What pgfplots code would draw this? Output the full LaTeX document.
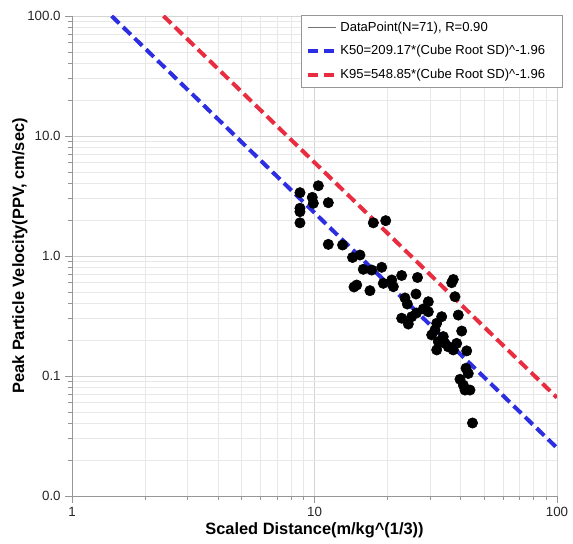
\documentclass[border=0pt]{standalone}
\usepackage{fontspec}
\setmainfont{Liberation Sans}
\usepackage{pgfplots}
\pgfplotsset{compat=1.18}
\definecolor{kblue}{RGB}{45,45,225}
\definecolor{kred}{RGB}{232,45,65}
\definecolor{gridmaj}{RGB}{212,212,212}
\definecolor{gridmin}{RGB}{232,232,232}
\definecolor{axgray}{RGB}{150,150,150}
\pgfplotsset{
    dashleg/.style={legend image code/.code={\draw[##1] (0pt,0pt) -- (21pt,0pt);}},
}

\begin{document}
\begin{tikzpicture}
\begin{axis}[
    scale only axis,
    width=363.75pt, height=360pt,
    xmode=log, ymode=log,
    xmin=1, xmax=100, ymin=0.01, ymax=100,
    axis x line*=bottom, axis y line*=left,
    axis line style={axgray, line width=0.6pt, -},
    xtick={1,10,100}, xticklabels={1,10,100},
    ytick={0.01,0.1,1,10,100}, yticklabels={0.0,0.1,1.0,10.0,100.0},
    minor xtick={2,3,4,5,6,7,8,9,20,30,40,50,60,70,80,90},
    minor ytick={0.02,0.03,0.04,0.05,0.06,0.07,0.08,0.09,0.2,0.3,0.4,0.5,0.6,0.7,0.8,0.9,2,3,4,5,6,7,8,9,20,30,40,50,60,70,80,90},
    grid=both,
    major grid style={gridmaj, line width=0.5pt},
    minor grid style={gridmin, line width=0.5pt},
    tick align=outside,
    major tick length=5pt, minor tick length=3pt,
    tick style={axgray, line width=0.5pt},
    ticklabel style={font=\fontsize{10}{12}\selectfont, text=black!85},
    xlabel={Scaled Distance(m/kg\textasciicircum(1/3))},
    ylabel={Peak Particle Velocity(PPV, cm/sec)},
    every axis x label/.style={at={(axis description cs:0.5,0)}, yshift=-25.5pt, anchor=center,
        font=\bfseries\fontsize{12.3}{14}\selectfont},
    every axis y label/.style={at={(axis description cs:0,0.5)}, xshift=-39pt, rotate=90, anchor=center,
        font=\bfseries\fontsize{12.3}{14}\selectfont},
    legend style={at={(1.012,1.002)}, anchor=north east, draw=axgray, line width=0.5pt,
        font=\fontsize{9.8}{12}\selectfont, row sep=5pt, inner sep=3pt},
    legend cell align=left,
]
\addplot[only marks, mark=*, mark size=3.9pt, mark options={draw=black, fill=black},
    legend image code/.code={\draw[black!55, line width=0.5pt] (0pt,0pt) -- (21pt,0pt);}]
coordinates {
(8.71,3.37) (10.37,3.85) (9.79,3.08) (9.89,2.75) (8.71,2.50) (8.71,2.34) (8.71,1.89)
(11.40,2.78) (17.48,1.89) (19.67,1.97) (11.40,1.25) (13.05,1.235) (14.35,0.972)
(15.40,1.019) (15.89,0.775) (17.21,0.764) (18.93,0.805) (14.93,0.573) (14.55,0.552)
(16.93,0.514) (19.22,0.592) (20.82,0.631) (22.88,0.688) (26.59,0.662) (21.14,0.555)
(23.61,0.447) (26.21,0.482) (24.14,0.398) (29.47,0.416) (28.10,0.362) (29.47,0.343)
(36.80,0.599) (37.36,0.637) (37.96,0.458) (22.88,0.303) (24.37,0.271) (25.17,0.312)
(26.33,0.335) (33.46,0.312) (39.17,0.322) (31.91,0.275) (31.40,0.242) (30.43,0.220)
(32.40,0.193) (31.91,0.165) (35.62,0.175) (38.58,0.187) (40.46,0.237) (42.43,0.162)
(33.97,0.213) (37.36,0.165) (34.52,0.187) (42.14,0.116) (43.07,0.105) (39.81,0.0939)
(41.08,0.0841) (43.77,0.0764) (41.74,0.0764) (44.82,0.0406)
};
\addlegendentry{DataPoint(N=71), R=0.90}
\addplot[kblue, line width=3pt, dash pattern=on 8pt off 4pt, dashleg]
coordinates {(1.457,100) (100,0.02515)};
\addlegendentry{K50=209.17*(Cube Root SD)\textasciicircum-1.96}
\addplot[kred, line width=3pt, dash pattern=on 8pt off 4pt, dashleg]
coordinates {(2.384,100) (100,0.0660)};
\addlegendentry{K95=548.85*(Cube Root SD)\textasciicircum-1.96\hspace*{8pt}}
\end{axis}
\pgfresetboundingbox
\path[use as bounding box] (-54pt,-35.25pt) rectangle (375.75pt,372pt);
\end{tikzpicture}
\end{document}
